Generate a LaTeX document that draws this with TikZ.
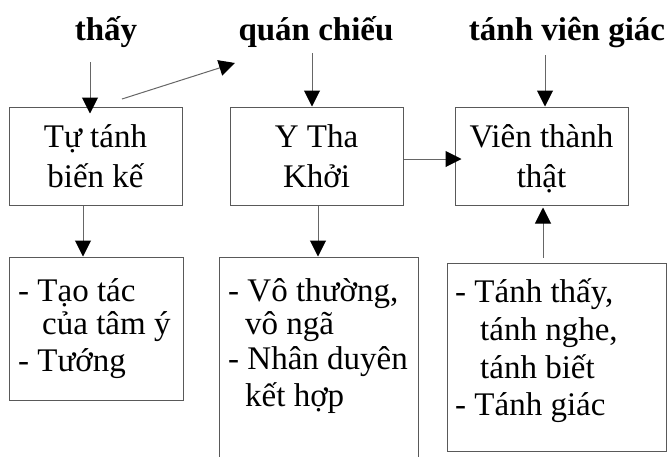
\documentclass[tikz,border=0pt]{standalone}
\usepackage{fontspec}
\setmainfont{Liberation Serif}
\usetikzlibrary{arrows.meta}
\begin{document}
\begin{tikzpicture}[x=1pt,y=-1pt,
  box/.style={draw=black!65, line width=1pt, inner sep=0pt, minimum width=#1},
  txt/.style={inner sep=0pt, anchor=base, font=\fontsize{33}{38}\selectfont},
  ltxt/.style={txt, anchor=base west},
  ttl/.style={txt, font=\fontsize{33}{38}\selectfont\bfseries},
  arr/.style={draw=black!60, line width=1pt,
    -{Triangle[length=16pt,width=16pt,color=black]}}]
\useasboundingbox (0,0) rectangle (670,456);

% titles
\node[ttl] (t1) at (106,40) {thấy};
\node[ttl] (t2) at (316,40) {quán chiếu};
\node[ttl] (t3) at (567,40) {tánh viên giác};

% upper boxes
\node[box=173pt, minimum height=98pt] (b1) at (95.5,156) {};
\node[box=173pt, minimum height=98pt] (b2) at (316.5,156) {};
\node[box=173pt, minimum height=98pt] (b3) at (541.5,156) {};

\node[txt] (b1a) at (95.5,147) {Tự tánh};
\node[txt] (b1b) at (95.5,187) {biến kế};
\node[txt] (b2a) at (316.5,147) {Y Tha};
\node[txt] (b2b) at (316.5,187) {Khởi};
\node[txt] (b3a) at (541.5,147) {Viên thành};
\node[txt] (b3b) at (541.5,187) {thật};

% lower boxes
\node[box=174pt, minimum height=143pt] (b4) at (96,328.5) {};
\node[box=199pt, minimum height=210pt] (b5) at (318.5,362) {};
\node[box=219pt, minimum height=188pt] (b6) at (556.5,357) {};

\node[ltxt] (b4a) at (18,301) {- Tạo tác};
\node[ltxt] (b4b) at (42,334) {của tâm ý};
\node[ltxt] (b4c) at (18,371) {- Tướng};

\node[ltxt] (b5a) at (228,301) {- Vô thường,};
\node[ltxt] (b5b) at (245,334) {vô ngã};
\node[ltxt] (b5c) at (228,369) {- Nhân duyên};
\node[ltxt] (b5d) at (245,406) {kết hợp};

\node[ltxt] (b6a) at (455,302) {- Tánh thấy,};
\node[ltxt] (b6b) at (480,340) {tánh nghe,};
\node[ltxt] (b6c) at (480,378) {tánh biết};
\node[ltxt] (b6d) at (455,415) {- Tánh giác};

% connectors
\coordinate (s1) at (90,62);
\coordinate (s2) at (312,53);
\coordinate (s3) at (545,55);
\coordinate (d0) at (122,99);
\coordinate (d1) at (235,63);
\draw[arr] (s1) -- ([yshift=-7pt]s1 |- b1.north);
\draw[arr] (s2) -- (s2 |- b2.north);
\draw[arr] (s3) -- (s3 |- b3.north);
\draw[arr] (d0) -- (d1);
\draw[arr] (b2.east |- 0,159) -- ([xshift=7pt]b3.west |- 0,159);
\draw[arr] ([xshift=-12.5pt]b1.south) -- ([xshift=-13pt]b4.north);
\draw[arr] ([xshift=1.5pt]b2.south) -- ([xshift=-0.5pt]b5.north);
\draw[arr] ([xshift=-13.5pt,yshift=5pt]b6.north) -- ([xshift=1.5pt,yshift=-2pt]b3.south);
\end{tikzpicture}
\end{document}
